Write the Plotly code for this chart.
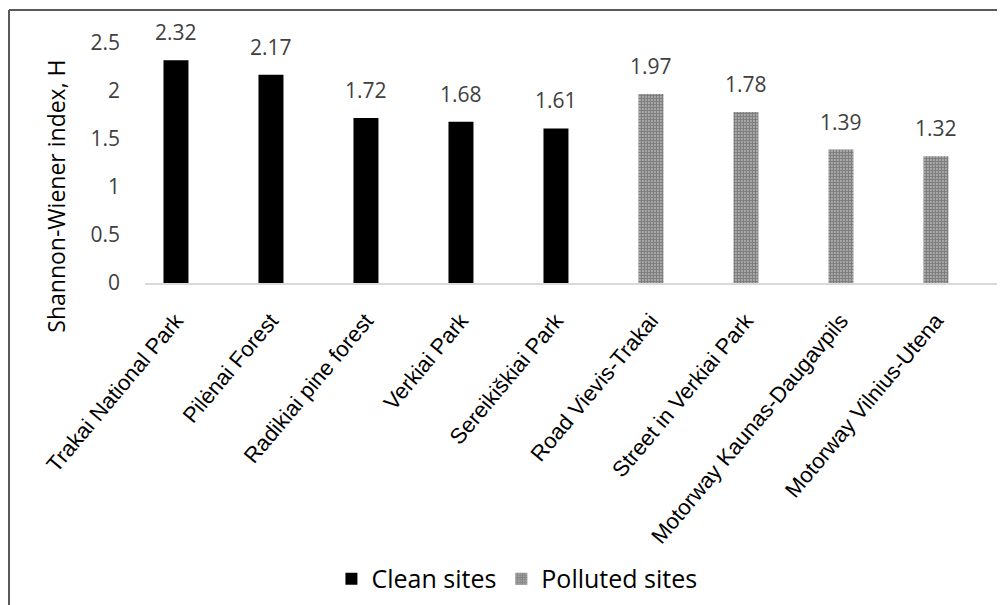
import plotly.graph_objects as go

clean_sites = ["Trakai National Park", "Pilėnai Forest", "Radikiai pine forest", "Verkiai Park", "Sereikiškiai Park"]
clean_values = [2.32, 2.17, 1.72, 1.68, 1.61]
polluted_sites = ["Road Vievis-Trakai", "Street in Verkiai Park", "Motorway Kaunas-Daugavpils", "Motorway Vilnius-Utena"]
polluted_values = [1.97, 1.78, 1.39, 1.32]
y_ticks = [0, 0.5, 1, 1.5, 2, 2.5]
y_tick_labels = ["0", "0.5", "1", "1.5", "2", "2.5"]

FONT = "Open Sans, Noto Sans, sans-serif"
data_label_font = dict(family=FONT, size=21, color="#404040")

fig = go.Figure()
fig.add_trace(go.Bar(
    x=clean_sites, y=clean_values, name="Clean sites",
    marker=dict(color="black", line=dict(width=0)),
))
fig.add_trace(go.Bar(
    x=polluted_sites, y=polluted_values, name="Polluted sites",
    marker=dict(color="white", line=dict(width=0),
                pattern=dict(shape=".", fgcolor="black", bgcolor="white", size=3, solidity=0.8)),
))

# data labels above bars
for cat, val in list(zip(clean_sites, clean_values)) + list(zip(polluted_sites, polluted_values)):
    fig.add_annotation(x=cat, y=val, text=f"{val:.2f}", showarrow=False,
                       xref="x", yref="y", yanchor="bottom", yshift=12, font=data_label_font)

# plot area in figure pixels: x 137..992, y 35..275 (page is offset by 8px body margin)
fig.update_layout(
    width=1005, height=605,
    margin=dict(l=137, r=13, t=35, b=330, autoexpand=False),
    plot_bgcolor="white", paper_bgcolor="white",
    bargap=0.737, barmode="overlay",
    showlegend=True,
    legend=dict(orientation="h", x=0.435, xanchor="center", y=-1.233, yanchor="middle",
                font=dict(family=FONT, size=25, color="black"),
                itemwidth=30, traceorder="normal"),
    xaxis=dict(
        showline=True, linecolor="#d9d9d9", linewidth=2, ticks="",
        tickangle=-50, tickfont=dict(family="Liberation Sans, Arial, sans-serif", size=22, color="black"),
        ticklabelstandoff=14,
        categoryorder="array", categoryarray=clean_sites + polluted_sites,
        range=[-0.326, 8.674], automargin=False,
    ),
    yaxis=dict(
        range=[0, 2.5], tickvals=y_ticks, ticktext=y_tick_labels,
        showgrid=False, zeroline=False, showline=False, ticks="",
        tickfont=dict(family=FONT, size=21, color="#404040"), ticklabelstandoff=24, automargin=False,
    ),
    font=dict(family=FONT),
)

fig.add_annotation(
    text="Shannon-Wiener index, H", textangle=-90,
    xref="paper", yref="paper", x=-0.104, y=0.36, xanchor="center", yanchor="middle",
    showarrow=False, font=dict(family=FONT, size=23, color="black"),
)

# figure border (top and left)
top = (275 - 2) / 240
left = (1 - 137) / 855
fig.add_shape(type="line", xref="paper", yref="paper", x0=left, x1=1.02, y0=top, y1=top,
              line=dict(color="#595959", width=2))
fig.add_shape(type="line", xref="paper", yref="paper", x0=left, x1=left, y0=top, y1=-1.5,
              line=dict(color="#595959", width=2))

fig.write_html("out.html")
